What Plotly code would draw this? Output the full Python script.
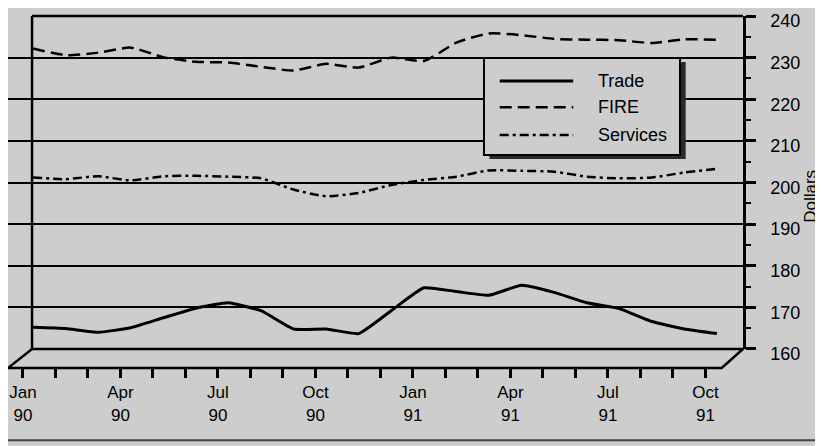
import plotly.graph_objects as go

# monthly average weekly earnings, Jan 90 .. Oct 91
months = list(range(22))
tick_text = ["Jan<br>90", "", "", "Apr<br>90", "", "", "Jul<br>90", "", "", "Oct<br>90", "", "",
             "Jan<br>91", "", "", "Apr<br>91", "", "", "Jul<br>91", "", "", "Oct<br>91"]

trade = [165.2, 164.9, 164.0, 165.1, 167.5, 169.8, 171.1, 169.2, 164.8, 164.8, 163.7, 169.2,
         174.7, 173.8, 172.9, 175.3, 173.6, 171.1, 169.7, 166.6, 164.8, 163.7]
fire = [232.2, 230.6, 231.2, 232.4, 230.1, 229.0, 228.8, 227.8, 226.9, 228.5, 227.6, 230.0,
        229.2, 233.6, 235.8, 235.4, 234.5, 234.3, 234.2, 233.5, 234.4, 234.3]
services = [201.2, 200.8, 201.5, 200.5, 201.5, 201.6, 201.4, 201.0, 198.3, 196.7, 197.5, 199.4,
            200.6, 201.4, 202.9, 202.8, 202.6, 201.4, 201.0, 201.2, 202.4, 203.3]

series = [("Trade", trade, dict(color="black", width=3, shape="spline", smoothing=0.4)),
          ("FIRE", fire, dict(color="black", width=2.5, dash="12px,6px", shape="spline", smoothing=0.6)),
          ("Services", services, dict(color="black", width=2.5, dash="9px,4px,3px,4px",
                                      shape="spline", smoothing=0.6))]

BG = "#cdcdcd"
FONT = "Liberation Sans, Arial, sans-serif"

fig = go.Figure()
for name, vals, line in series:
    fig.add_trace(go.Scatter(x=months, y=vals, name=name, mode="lines", line=line))
# invisible copy so the front (tick) axis gets drawn
fig.add_trace(go.Scatter(x=months, y=trade, xaxis="x2", mode="lines", opacity=0,
                         showlegend=False, hoverinfo="skip", line=dict(width=0)))

# 3-D floor and back wall edge
fig.add_shape(type="path", xref="paper", yref="paper",
              path="M 0,0 L 0.0327,0.054 L 1,0.054 L 0.971,0 Z",
              line=dict(color="black", width=2.5), layer="above")
fig.add_shape(type="line", xref="paper", yref="paper", x0=0.0327, x1=0.0327, y0=0.054, y1=1,
              line=dict(color="black", width=2.5))
fig.add_shape(type="line", xref="paper", yref="paper", x0=0.0327, x1=1, y0=1, y1=1,
              line=dict(color="black", width=2.5))
# bottom page edge of the scan
fig.add_shape(type="line", xref="paper", yref="paper", x0=-0.02, x1=1.12, y0=-0.205, y1=-0.205,
              line=dict(color="#444444", width=2))

# legend box with drop shadow
fig.add_shape(type="rect", xref="paper", yref="paper", x0=0.655, x1=0.922, y0=0.594, y1=0.869,
              fillcolor="#2a2a2a", line=dict(width=0), layer="above")
fig.add_shape(type="rect", xref="paper", yref="paper", x0=0.6476, x1=0.9143, y0=0.605, y1=0.8807,
              fillcolor=BG, line=dict(color="black", width=2), layer="above")
for (name, vals, line), ly in zip(series, [0.815, 0.741, 0.662]):
    fig.add_shape(type="line", xref="paper", yref="paper", x0=0.669, x1=0.769, y0=ly, y1=ly,
                  line=dict(color="black", width=line["width"], dash=line.get("dash", "solid")),
                  layer="above")
    fig.add_annotation(x=0.80, y=ly, xref="paper", yref="paper", text=name, showarrow=False,
                       xanchor="left", yanchor="middle", font=dict(size=18))

fig.add_annotation(x=1.092, y=0.488, xref="paper", yref="paper", text="Dollars", showarrow=False,
                   xanchor="center", yanchor="middle", textangle=-90, font=dict(size=17))

fig.update_layout(
    width=815, height=438,
    margin=dict(l=0, r=80, t=8, b=78),
    paper_bgcolor=BG, plot_bgcolor="rgba(0,0,0,0)",
    font=dict(family=FONT, size=17, color="black"),
    showlegend=False,
    xaxis=dict(domain=[0.0327, 1], range=[-0.03, 21.8], showgrid=False, zeroline=False,
               showticklabels=False, ticks="", automargin=False),
    xaxis2=dict(domain=[0, 0.971], range=[-0.46, 21.5], anchor="free", position=0,
                showgrid=False, zeroline=False, showline=False, automargin=False,
                tickvals=months, ticktext=tick_text, ticks="outside", ticklen=9,
                tickwidth=2.5, tickcolor="black", tickfont=dict(size=17)),
    yaxis=dict(domain=[0.054, 1], range=[160, 240], side="right", anchor="x",
               showgrid=True, gridcolor="black", gridwidth=2, zeroline=False,
               showline=True, linecolor="black", linewidth=2.5, automargin=False,
               dtick=10, ticks="outside", ticklen=10, tickwidth=2.5, tickcolor="black",
               ticklabelstandoff=11, ticklabelshift=5, ticklabeloverflow="allow",
               tickfont=dict(size=18),
               minor=dict(dtick=5, ticks="outside", ticklen=5, tickwidth=2, tickcolor="black",
                          showgrid=False)),
)

fig.write_html("out.html")
